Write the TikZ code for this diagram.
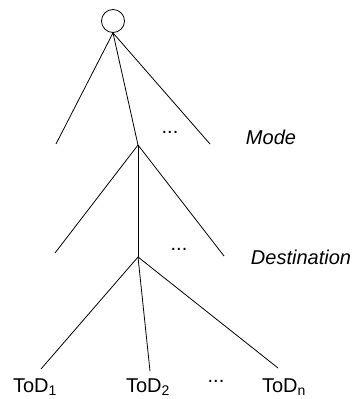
\documentclass[tikz,border=0pt]{standalone}
\usepackage{fontspec}
\setmainfont{Liberation Sans}
\begin{document}
\begin{tikzpicture}[x=1pt,y=-1pt,line width=0.8pt,
  lbl/.style={font=\fontsize{20}{24}\selectfont,inner sep=0pt,anchor=center},
  ilbl/.style={lbl,font=\fontsize{20}{24}\selectfont\itshape}]
\useasboundingbox (0,0) rectangle (355,399);
\node[draw,circle,minimum size=23pt,inner sep=0pt] (root) at (113,21) {};
\coordinate (a1) at (56,144);
\coordinate (a2) at (138,145);
\coordinate (a3) at (210,144);
\coordinate (b1) at (55,253);
\coordinate (b2) at (138,257);
\coordinate (b3) at (224,256);
\coordinate (c1) at (41,369);
\coordinate (c2) at (150,371);
\coordinate (c3) at (278,368);
\draw (root.south) -- (a1);
\draw (root.south) -- (a2);
\draw (root.south) -- (a3);
\draw (a2) -- (b1);
\draw (a2) -- (b2);
\draw (a2) -- (b3);
\draw (b2) -- (c1);
\draw (b2) -- (c2);
\draw (b2) -- (c3);
\node[lbl] (d1) at (170,132) {...};
\node[ilbl] (mode) at (271,137) {Mode};
\node[lbl] (d2) at (179,249) {...};
\node[ilbl] (dest) at (301,257) {Destination};
\node[lbl,anchor=base] (t1) at (35,392) {ToD\textsubscript{1}};
\node[lbl,anchor=base] (t2) at (148,392) {ToD\textsubscript{2}};
\node[lbl] (d3) at (216,381) {...};
\node[lbl,anchor=base] (tn) at (284,392) {ToD\textsubscript{n}};
\end{tikzpicture}
\end{document}
